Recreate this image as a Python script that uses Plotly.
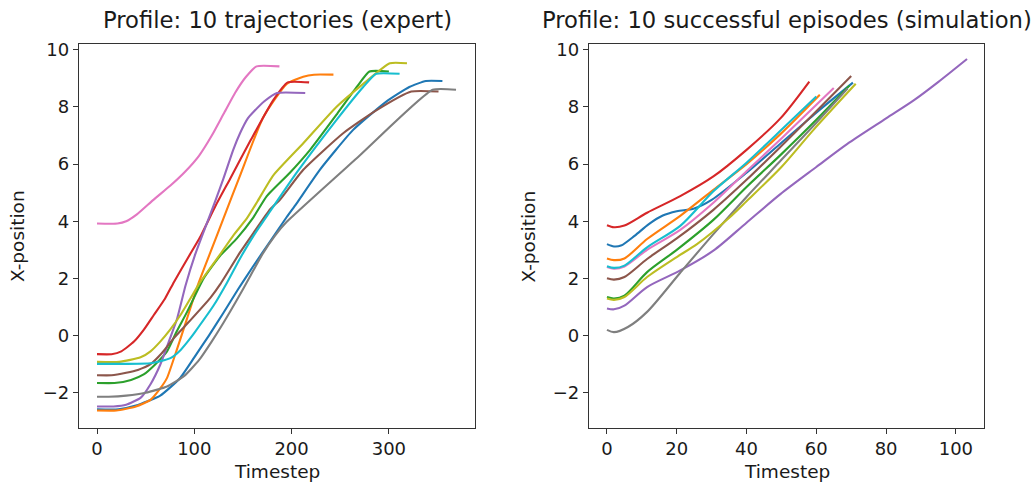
import plotly.graph_objects as go

# ---------------- Data: expert trajectories (left) ----------------
exp_blue_t = [0, 22, 40, 65, 85, 100, 115, 130, 145, 160, 178, 195, 205, 229, 263, 297, 321, 338, 355]
exp_blue_x = [-2.58, -2.58, -2.45, -2.1, -1.5, -0.76, 0.0, 0.8, 1.62, 2.4, 3.3, 4.15, 4.62, 5.8, 7.19, 8.18, 8.7, 8.91, 8.91]

exp_orange_t = [0, 20, 40, 55, 65, 72, 82, 92.6, 104, 116.5, 130, 147, 171, 195, 212, 223, 243]
exp_orange_x = [-2.62, -2.62, -2.48, -2.25, -1.85, -1.48, -0.5, 0.6, 1.8, 2.91, 4.1, 5.6, 7.65, 8.81, 9.06, 9.13, 9.13]

exp_green_t = [0, 18, 35, 48, 60, 72, 82, 92.6, 109.6, 126.7, 143.8, 160, 174.5, 198, 219, 247, 267, 280, 300]
exp_green_x = [-1.66, -1.66, -1.55, -1.36, -1.0, -0.55, 0.15, 0.83, 2.0, 2.8, 3.4, 4.1, 4.88, 5.69, 6.5, 7.77, 8.7, 9.24, 9.24]

exp_red_t = [0, 15, 25, 38, 48, 58.4, 70, 79, 94, 106, 122, 137, 158, 181, 196, 218]
exp_red_x = [-0.65, -0.65, -0.55, -0.21, 0.2, 0.72, 1.3, 1.87, 2.75, 3.45, 4.55, 5.5, 6.84, 8.23, 8.86, 8.86]

exp_purple_t = [0, 17, 30, 45, 55, 65, 75, 82.4, 91, 101, 112, 122, 130, 140, 147, 155, 161, 172, 185, 214]
exp_purple_x = [-2.48, -2.48, -2.42, -2.17, -1.7, -1.02, -0.1, 0.6, 1.75, 2.85, 3.85, 4.75, 5.5, 6.5, 7.08, 7.6, 7.83, 8.2, 8.49, 8.49]

exp_brown_t = [0, 15, 30, 42, 55, 67, 79, 95, 116.5, 126.7, 147, 161, 178, 188, 212, 253, 287, 323, 351]
exp_brown_x = [-1.39, -1.39, -1.3, -1.2, -1.0, -0.6, -0.09, 0.5, 1.32, 1.8, 2.91, 3.6, 4.42, 4.75, 5.8, 7.08, 7.88, 8.54, 8.54]

exp_pink_t = [0, 21, 30, 41, 58, 75.5, 91, 105, 118, 130, 142, 153, 164, 187.5]
exp_pink_x = [3.92, 3.92, 4.0, 4.24, 4.75, 5.25, 5.75, 6.3, 7.0, 7.75, 8.5, 9.05, 9.42, 9.42]

exp_gray_t = [0, 12, 30, 50, 72, 90, 105, 118, 130, 143, 157, 170, 183, 195, 270, 345, 369]
exp_gray_x = [-2.14, -2.14, -2.1, -2.0, -1.78, -1.4, -0.85, -0.2, 0.45, 1.2, 2.05, 2.85, 3.5, 3.98, 6.3, 8.6, 8.6]

exp_olive_t = [0, 23, 44.8, 55, 65, 75, 85.8, 96, 106, 126.7, 140, 154, 165, 181, 212, 246, 273.6, 301, 318.6]
exp_olive_x = [-0.92, -0.92, -0.76, -0.55, -0.21, 0.2, 0.72, 1.3, 1.87, 2.85, 3.5, 4.1, 4.7, 5.6, 6.73, 8.0, 8.81, 9.53, 9.53]

exp_cyan_t = [0, 30, 55, 65, 75.5, 86, 96, 101, 120, 133.6, 147, 161, 178, 205, 246, 273.6, 287, 311]
exp_cyan_x = [-0.99, -0.99, -0.97, -0.9, -0.79, -0.5, -0.09, 0.14, 1.06, 1.85, 2.7, 3.5, 4.35, 5.69, 7.54, 8.7, 9.16, 9.16]

# ---------------- Data: simulation episodes (right) ----------------
sim_blue_t = [0, 2, 4, 8, 12, 16, 20, 25, 30, 40, 50, 60, 70.5]
sim_blue_x = [3.2, 3.12, 3.15, 3.5, 3.9, 4.2, 4.35, 4.45, 4.75, 5.7, 6.75, 7.8, 8.85]

sim_orange_t = [0, 2, 5, 11.5, 21, 30.5, 40, 49.7, 61]
sim_orange_x = [2.7, 2.64, 2.7, 3.38, 4.19, 5.1, 6.0, 7.05, 8.43]

sim_green_t = [0, 2, 5, 11.5, 20, 30.5, 40, 50, 60, 69.5]
sim_green_x = [1.35, 1.3, 1.4, 2.22, 3.0, 4.05, 5.2, 6.35, 7.55, 8.75]

sim_red_t = [0, 2, 5, 11.5, 21, 30.5, 40, 49.7, 58]
sim_red_x = [3.86, 3.79, 3.85, 4.3, 4.88, 5.57, 6.5, 7.6, 8.89]

sim_purple_t = [0, 2, 5, 11.5, 21, 30.5, 40, 49.7, 60, 68.8, 80, 87.9, 95, 103.2]
sim_purple_x = [0.95, 0.92, 1.05, 1.7, 2.28, 2.97, 3.95, 4.95, 5.9, 6.7, 7.6, 8.23, 8.88, 9.68]

sim_brown_t = [0, 2, 5, 11.5, 20, 30.5, 40, 49.7, 60, 70]
sim_brown_x = [2.01, 1.96, 2.05, 2.68, 3.4, 4.4, 5.45, 6.6, 7.85, 9.08]

sim_pink_t = [0, 2, 5, 11.5, 21, 30.5, 40, 50, 65]
sim_pink_x = [2.4, 2.34, 2.42, 3.0, 3.7, 4.65, 5.75, 6.9, 8.66]

sim_gray_t = [0, 2, 6, 11.5, 21, 30.5, 40, 50, 60, 69]
sim_gray_x = [0.2, 0.12, 0.3, 0.83, 2.2, 3.55, 4.85, 6.15, 7.45, 8.65]

sim_olive_t = [0, 2, 5, 11.5, 20, 25.8, 35.3, 40, 50, 59.2, 71.3]
sim_olive_x = [1.3, 1.25, 1.35, 2.05, 2.75, 3.2, 4.15, 4.7, 5.9, 7.2, 8.81]

sim_cyan_t = [0, 2, 5, 11.5, 21, 30.5, 40, 50, 60]
sim_cyan_x = [2.43, 2.37, 2.45, 3.09, 3.84, 5.05, 6.05, 7.2, 8.37]

colors = ["#1f77b4", "#ff7f0e", "#2ca02c", "#d62728", "#9467bd",
          "#8c564b", "#e377c2", "#7f7f7f", "#bcbd22", "#17becf"]

left_series = [
    (exp_blue_t, exp_blue_x), (exp_orange_t, exp_orange_x), (exp_green_t, exp_green_x),
    (exp_red_t, exp_red_x), (exp_purple_t, exp_purple_x), (exp_brown_t, exp_brown_x),
    (exp_pink_t, exp_pink_x), (exp_gray_t, exp_gray_x), (exp_olive_t, exp_olive_x),
    (exp_cyan_t, exp_cyan_x),
]
right_series = [
    (sim_blue_t, sim_blue_x), (sim_orange_t, sim_orange_x), (sim_green_t, sim_green_x),
    (sim_red_t, sim_red_x), (sim_purple_t, sim_purple_x), (sim_brown_t, sim_brown_x),
    (sim_pink_t, sim_pink_x), (sim_gray_t, sim_gray_x), (sim_olive_t, sim_olive_x),
    (sim_cyan_t, sim_cyan_x),
]

fig = go.Figure()
for (t, x), c in zip(left_series, colors):
    fig.add_trace(go.Scatter(x=t, y=x, mode="lines",
                             line=dict(color=c, width=2.1, shape="spline", smoothing=0.5),
                             xaxis="x", yaxis="y", showlegend=False))
for (t, x), c in zip(right_series, colors):
    fig.add_trace(go.Scatter(x=t, y=x, mode="lines",
                             line=dict(color=c, width=2.1, shape="spline", smoothing=0.8),
                             xaxis="x2", yaxis="y2", showlegend=False))

W, H = 1033, 487
FONT = "DejaVu Sans"
TXT = "#1a1a1a"
axis_common = dict(showline=True, mirror=True, linecolor="#333333", linewidth=1.3,
                   ticks="outside", ticklen=5, tickwidth=1.1, tickcolor="#333333",
                   showgrid=False, zeroline=False,
                   tickfont=dict(family=FONT, size=18, color=TXT))

yr = [-3.22, 10.2]
fig.update_layout(
    width=W, height=H,
    margin=dict(l=0, r=0, t=0, b=0),
    paper_bgcolor="white", plot_bgcolor="white",
    xaxis=dict(domain=[79 / W, 475 / W], range=[-18.5, 388.5], tickvals=[0, 100, 200, 300],
               anchor="y", **axis_common),
    yaxis=dict(domain=[(H - 427) / H, (H - 39.5) / H], range=yr, tickvals=[-2, 0, 2, 4, 6, 8, 10],
               anchor="x", **axis_common),
    xaxis2=dict(domain=[589 / W, 984.3 / W], range=[-5.15, 108.15], tickvals=[0, 20, 40, 60, 80, 100],
                anchor="y2", **axis_common),
    yaxis2=dict(domain=[(H - 427) / H, (H - 39.5) / H], range=yr, tickvals=[-2, 0, 2, 4, 6, 8, 10],
                anchor="x2", **axis_common),
)

ann_font = dict(family=FONT, size=18.5, color=TXT)
title_font = dict(family=FONT, size=22.7, color=TXT)
annotations = [
    dict(text="Profile: 10 trajectories (expert)", x=277 / W, y=(H - 15) / H, font=title_font),
    dict(text="Profile: 10 successful episodes (simulation)", x=786.5 / W, y=(H - 15) / H, font=title_font),
    dict(text="Timestep", x=277 / W, y=(H - 471) / H, font=ann_font),
    dict(text="Timestep", x=786.5 / W, y=(H - 471) / H, font=ann_font),
    dict(text="X-position", x=17.5 / W, y=(H - 234) / H, font=ann_font, textangle=-90),
    dict(text="X-position", x=529 / W, y=(H - 234) / H, font=ann_font, textangle=-90),
]
for a in annotations:
    a.update(xref="paper", yref="paper", showarrow=False, xanchor="center", yanchor="middle")
fig.update_layout(annotations=annotations)

fig.write_html("out.html")
